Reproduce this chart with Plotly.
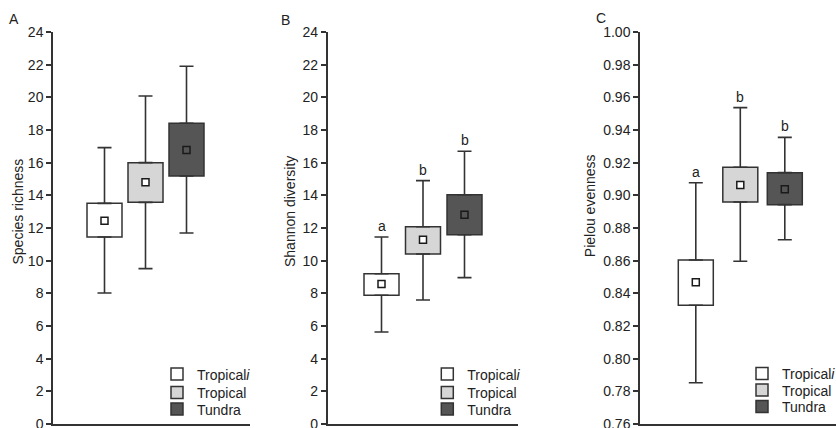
import plotly.graph_objects as go

# ---------------- data ----------------
groups = ["Tropical<i>i</i>", "Tropical", "Tundra"]
fill_colors = ["#ffffff", "#d6d6d6", "#555555"]
mean_fill = ["#ffffff", "#ffffff", "#555555"]

panel_letters = ["A", "B", "C"]
y_titles = ["Species richness", "Shannon diversity", "Pielou evenness"]

# species richness
rich_low = [8.02, 9.51, 11.69]
rich_q1 = [11.45, 13.57, 15.18]
rich_mean = [12.45, 14.80, 16.78]
rich_q3 = [13.51, 16.00, 18.41]
rich_high = [16.92, 20.08, 21.90]
rich_letters = ["", "", ""]

# shannon diversity
shan_low = [5.63, 7.59, 8.96]
shan_q1 = [7.88, 10.41, 11.59]
shan_mean = [8.57, 11.28, 12.81]
shan_q3 = [9.20, 12.08, 14.04]
shan_high = [11.45, 14.90, 16.70]
shan_letters = ["a", "b", "b"]

# pielou evenness
piel_low = [0.7853, 0.8596, 0.8728]
piel_q1 = [0.8327, 0.8959, 0.8943]
piel_mean = [0.8468, 0.9063, 0.9037]
piel_q3 = [0.8604, 0.9172, 0.9139]
piel_high = [0.9077, 0.9537, 0.9355]
piel_letters = ["a", "b", "b"]

y_ranges = [[0, 24], [0, 24], [0.76, 1.00]]
y_dticks = [2, 2, 0.02]
y_formats = ["d", "d", ".2f"]

# ---------------- layout geometry (pixels) ----------------
W, H = 836, 428
FONT = "Liberation Sans, Arial, Helvetica, sans-serif"
INK = "#222222"
LINE = "#333333"

panels = [
    dict(low=rich_low, q1=rich_q1, mean=rich_mean, q3=rich_q3, high=rich_high, letters=rich_letters,
         xpx=(53, 250), c0=104.5, step=41.0, title_xy=(17.5, 212), letter_xy=(14.3, 19),
         legend_x=157, legend_rows=(374.5, 393.0, 409.5)),
    dict(low=shan_low, q1=shan_q1, mean=shan_mean, q3=shan_q3, high=shan_high, letters=shan_letters,
         xpx=(327.7, 518), c0=381.5, step=41.5, title_xy=(289.5, 211.5), letter_xy=(285.3, 20),
         legend_x=427.3, legend_rows=(374.5, 393.0, 409.5)),
    dict(low=piel_low, q1=piel_q1, mean=piel_mean, q3=piel_q3, high=piel_high, letters=piel_letters,
         xpx=(640, 836), c0=695.8, step=44.5, title_xy=(589.5, 205.7), letter_xy=(601.3, 18.3),
         legend_x=742, legend_rows=(374.0, 390.5, 407.0)),
]

BOX_PX = 35
y_dom = [1 - 424 / H, 1 - 32 / H]

fig = go.Figure()
layout = dict(
    width=W, height=H, autosize=False,
    margin=dict(l=0, r=0, t=0, b=0, pad=0, autoexpand=False),
    paper_bgcolor="white", plot_bgcolor="white",
    font=dict(family=FONT, size=14, color=INK),
    barmode="overlay",
    showlegend=True,
)
annotations = []
xs = [0, 1, 2]
leg_count = 0

for i, p in enumerate(panels):
    sfx = "" if i == 0 else str(i + 1)
    xa, ya = "x" + sfx, "y" + sfx
    x0px, x1px = p["xpx"]
    r0 = -(p["c0"] - x0px) / p["step"]
    r1 = r0 + (x1px - x0px) / p["step"]
    bw = BOX_PX / p["step"]

    # boxes (Q1..Q3), each with its own single-entry legend
    for k in range(3):
        leg_count += 1
        leg = "legend" if leg_count == 1 else "legend" + str(leg_count)
        fig.add_trace(go.Bar(
            x=[xs[k]], y=[p["q3"][k] - p["q1"][k]], base=[p["q1"][k]], width=bw,
            marker=dict(color=fill_colors[k], line=dict(color=LINE, width=1.5)),
            name=groups[k], xaxis=xa, yaxis=ya, legend=leg, hoverinfo="skip",
        ))
        layout[leg] = dict(
            x=p["legend_x"] / W, y=1 - p["legend_rows"][k] / H, xanchor="left", yanchor="middle",
            bgcolor="rgba(0,0,0,0)", borderwidth=0, font=dict(size=14, color=INK, family=FONT),
            itemclick=False, itemdoubleclick=False,
        )

    # whiskers
    wx = xs + xs
    wy = p["q3"] + p["q1"]
    up = [p["high"][k] - p["q3"][k] for k in range(3)] + [0, 0, 0]
    dn = [0, 0, 0] + [p["q1"][k] - p["low"][k] for k in range(3)]
    fig.add_trace(go.Scatter(
        x=wx, y=wy, mode="markers", marker=dict(size=1, opacity=0),
        error_y=dict(type="data", symmetric=False, array=up, arrayminus=dn,
                     color=LINE, thickness=1.6, width=7),
        xaxis=xa, yaxis=ya, showlegend=False, hoverinfo="skip",
    ))

    # mean markers
    fig.add_trace(go.Scatter(
        x=xs, y=p["mean"], mode="markers",
        marker=dict(symbol="square", size=7, color=mean_fill, line=dict(color="#1a1a1a", width=1.5)),
        xaxis=xa, yaxis=ya, showlegend=False, hoverinfo="skip",
    ))

    layout["xaxis" + sfx] = dict(
        domain=[x0px / W, x1px / W], range=[r0, r1], anchor=ya,
        showline=True, linecolor=LINE, linewidth=2, showticklabels=False,
        ticks="", showgrid=False, zeroline=False, fixedrange=True,
    )
    layout["yaxis" + sfx] = dict(
        domain=y_dom, range=y_ranges[i], dtick=y_dticks[i], tick0=y_ranges[i][0],
        tickformat=y_formats[i], anchor=xa,
        showline=True, linecolor=LINE, linewidth=1.5,
        ticks="outside", ticklen=5, tickwidth=1.5, tickcolor=LINE,
        tickfont=dict(size=14, color=INK, family=FONT),
        ticklabeloverflow="allow",
        showgrid=False, zeroline=False, fixedrange=True,
    )

    # axis title
    annotations.append(dict(
        xref="paper", yref="paper", x=p["title_xy"][0] / W, y=1 - p["title_xy"][1] / H,
        text=y_titles[i], textangle=-90, showarrow=False, xanchor="center", yanchor="middle",
        font=dict(size=14, color=INK, family=FONT),
    ))
    # panel letter
    annotations.append(dict(
        xref="paper", yref="paper", x=p["letter_xy"][0] / W, y=1 - p["letter_xy"][1] / H,
        text=panel_letters[i], showarrow=False, xanchor="center", yanchor="middle",
        font=dict(size=14, color=INK, family=FONT),
    ))
    # significance letters
    for k in range(3):
        if p["letters"][k]:
            annotations.append(dict(
                xref=xa, yref=ya, x=xs[k], y=p["high"][k], text=p["letters"][k],
                showarrow=False, xanchor="center", yanchor="middle", yshift=11,
                font=dict(size=14, color=INK, family=FONT),
            ))

layout["annotations"] = annotations
fig.update_layout(**layout)
fig.write_html(
    "out.html",
    config={"displayModeBar": False},
    post_script="document.body.style.margin='0px';document.body.style.padding='0px';",
)
